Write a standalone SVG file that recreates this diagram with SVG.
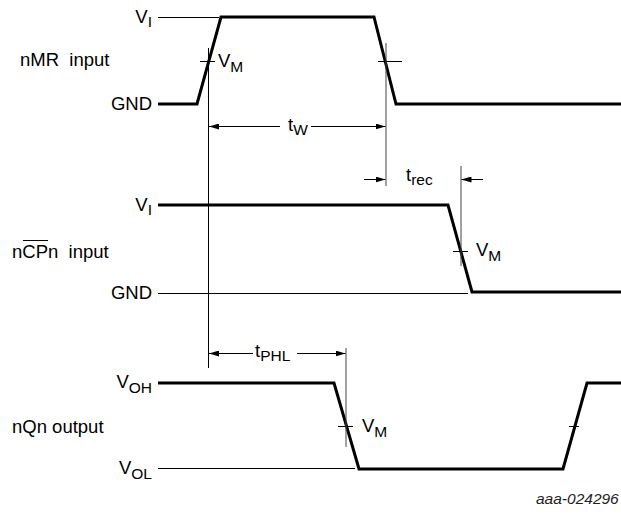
<svg xmlns="http://www.w3.org/2000/svg" width="621" height="514" viewBox="0 0 621 514">
<style>
text{font-family:"Liberation Sans",Arial,sans-serif;font-size:18.5px;fill:#000;white-space:pre}
.sub{font-size:15.5px}
.wave{fill:none;stroke:#000;stroke-width:3;stroke-linejoin:miter}
.thin{fill:none;stroke:#000;stroke-width:1}
.ref{fill:none;stroke:#444;stroke-width:1}
.end{text-anchor:end}
.id{font-size:15.5px;font-style:italic;fill:#222}
</style>
<defs>
<marker id="ah" viewBox="0 0 10 6" refX="10" refY="3" markerWidth="10" markerHeight="6" markerUnits="userSpaceOnUse" orient="auto">
<path d="M0,0 L10,3 L0,6 Z" fill="#000"/>
</marker>
</defs>
<g id="nMR">
<text x="20" y="66" xml:space="preserve">nMR  input</text>
<text class="end" x="152" y="23">V<tspan class="sub" dy="4">I</tspan></text>
<text class="end" x="152" y="110">GND</text>
<line class="thin" x1="158" y1="17.5" x2="219" y2="17.5"/>
<path class="wave" d="M158,104 H197 L221,17 H374 L396,104 H621"/>
<line class="thin" x1="200" y1="61.5" x2="215" y2="61.5"/>
<line class="thin" x1="378" y1="61.5" x2="402" y2="61.5"/>
<text x="218" y="67">V<tspan class="sub" dy="5">M</tspan></text>
</g>
<g id="nCPn">
<text x="12" y="258" xml:space="preserve">nCPn  input</text>
<line class="thin" x1="23" y1="240.5" x2="48" y2="240.5"/>
<text class="end" x="152" y="211">V<tspan class="sub" dy="4">I</tspan></text>
<text class="end" x="152" y="299">GND</text>
<line class="thin" x1="158" y1="293.5" x2="468" y2="293.5"/>
<path class="wave" d="M158,205 H448 L472,292 H621"/>
<line class="thin" x1="453" y1="251.5" x2="468" y2="251.5"/>
<text x="476" y="256">V<tspan class="sub" dy="5">M</tspan></text>
</g>
<g id="nQn">
<text x="12" y="433">nQn output</text>
<text class="end" x="152" y="388">V<tspan class="sub" dy="5">OH</tspan></text>
<text class="end" x="152" y="474">V<tspan class="sub" dy="5">OL</tspan></text>
<line class="thin" x1="158" y1="468.5" x2="355" y2="468.5"/>
<path class="wave" d="M158,383 H334 L359,469 H563 L587,383 H621"/>
<line class="thin" x1="338" y1="426.5" x2="353" y2="426.5"/>
<line class="thin" x1="569" y1="426.5" x2="579" y2="426.5"/>
<text x="362" y="432">V<tspan class="sub" dy="5">M</tspan></text>
</g>
<g id="connectors">
<line class="thin" x1="208.5" y1="48" x2="208.5" y2="368"/>
<line class="ref" x1="386" y1="43" x2="386" y2="186"/>
<line class="ref" x1="461" y1="166" x2="461" y2="266"/>
<line class="ref" x1="346" y1="348" x2="346" y2="447"/>
<line class="thin" x1="280" y1="126.5" x2="209" y2="126.5" marker-end="url(#ah)"/>
<line class="thin" x1="311" y1="126.5" x2="385.5" y2="126.5" marker-end="url(#ah)"/>
<text x="288" y="131">t<tspan class="sub" dy="4">W</tspan></text>
<line class="thin" x1="364" y1="179.5" x2="385.5" y2="179.5" marker-end="url(#ah)"/>
<line class="thin" x1="483" y1="179.5" x2="461.5" y2="179.5" marker-end="url(#ah)"/>
<text x="406" y="181">t<tspan class="sub" dy="4">rec</tspan></text>
<line class="thin" x1="253" y1="353.5" x2="209" y2="353.5" marker-end="url(#ah)"/>
<line class="thin" x1="297" y1="353.5" x2="345.5" y2="353.5" marker-end="url(#ah)"/>
<text x="255" y="357">t<tspan class="sub" dy="4">PHL</tspan></text>
</g>
<text class="id" x="536" y="504">aaa-024296</text>
</svg>
